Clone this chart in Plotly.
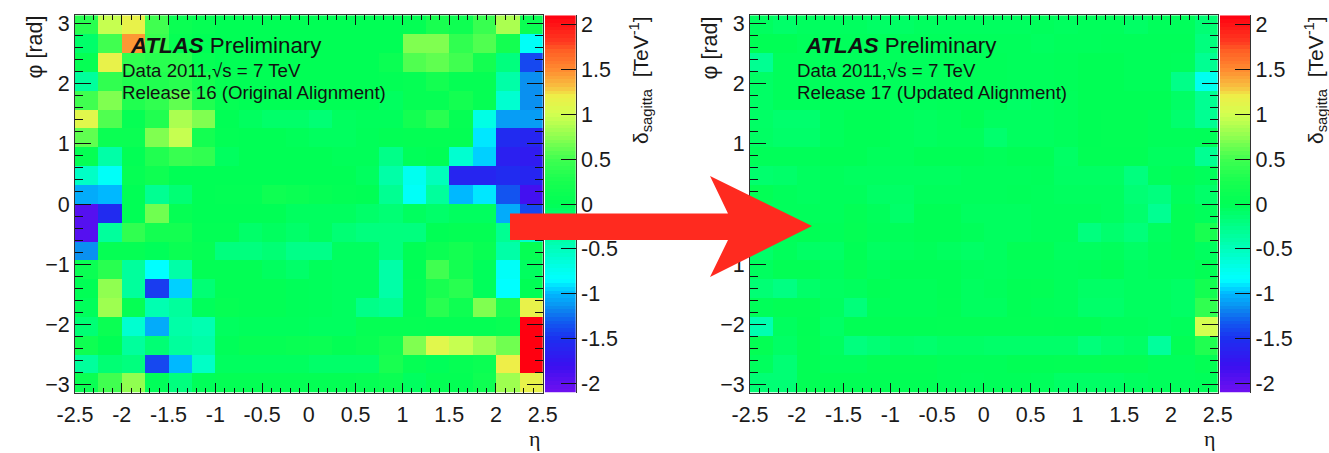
import math
import plotly.graph_objects as go

W, H = 1329, 453

eta_centers = [-2.375 + 0.25 * i for i in range(20)]
phi_centers = [math.pi * (1 - (2 * i + 1) / 20) for i in range(20)]

# rows run from the top (phi = +pi) to the bottom (phi = -pi), columns from eta = -2.5
release16 = [
    [.35, .95, 1.15, .5, .1, .05, 0, 0, 0, 0, 0, 0, 0, 0, .03, .25, .15, .45, .85, .1],
    [-.1, .5, 1.45, .45, .05, 0, 0, 0, 0, 0, 0, 0, 0, 0, .7, .7, .4, .55, .2, -.8],
    [.05, 1.15, .4, .35, .35, .05, 0, 0, 0, 0, 0, 0, 0, .1, .55, .6, .5, .2, -.2, -1.4],
    [-.35, .4, .3, .3, .35, .2, .05, 0, 0, 0, 0, 0, 0, .02, .05, .2, .05, .05, -.4, -1.15],
    [.5, .7, .3, .4, .6, .3, .05, 0, 0, 0, 0, 0, 0, -.05, .05, .05, .2, .05, -.6, -1.15],
    [1.1, .55, .05, .3, .85, .7, 0, -.05, -.1, -.1, -.15, -.05, -.03, -.03, .2, .35, .05, -.7, -1.1, -1.1],
    [.6, .1, .1, .7, .95, .2, .02, 0, 0, -.02, -.05, -.05, -.02, .02, .03, .03, .03, -.9, -1.55, -1.6],
    [.05, -.4, .02, .3, .45, .4, -.05, 0, 0, 0, 0, -.02, -.02, -.25, -.02, 0, -.6, -.95, -1.65, -1.7],
    [-.55, -.8, .05, .15, 0, 0, 0, 0, 0, 0, 0, 0, -.05, -.4, -.75, -.5, -1.6, -1.6, -1.55, -1.6],
    [-1.05, -1.0, 0, -.3, -.15, 0, .02, .02, .15, .1, .05, .02, 0, -.3, -.8, -.35, -1.0, -.9, -1.35, -1.85],
    [-1.95, -1.55, 0, .65, .05, 0, 0, 0, 0, -.05, -.05, -.05, -.1, -.15, -.05, -.1, -.05, -.05, -1.05, -1.4],
    [-1.95, -.35, .4, .2, .2, .02, .02, -.1, -.05, -.1, -.05, -.15, -.2, -.2, -.2, 0, .03, .03, -.3, -.6],
    [-1.15, .05, .05, -.02, .1, .05, -.2, -.2, -.15, -.25, -.25, -.05, -.05, -.2, 0, .1, .2, .08, -.4, .05],
    [.1, .35, -.35, -.85, -.4, .02, .02, .02, -.05, -.1, -.03, -.05, -.05, -.4, 0, .5, .2, -.03, -.8, -.05],
    [0, .75, -.35, -1.45, -.95, -.15, .02, .02, .02, -.02, -.03, -.05, -.05, -.4, .02, .25, .35, -.03, -.85, 0],
    [-.03, .8, .05, -.45, -.35, -.03, .05, .02, .02, -.02, -.03, -.05, -.25, -.3, .02, .35, .15, .7, .25, 1.15],
    [-.15, .1, -.6, -1.05, -.4, -.45, -.05, -.03, -.03, -.03, -.05, -.05, .05, .05, .05, .04, .04, .04, .08, 2.1],
    [.15, 0, -.35, -.15, -.35, -.4, -.02, .05, .05, .08, .1, .03, .08, .2, .7, 1.1, .95, .8, .65, 2.1],
    [-.35, -.15, -.2, -1.4, -1.0, -.55, -.05, -.05, -.05, -.05, -.1, -.1, -.1, .25, .05, -.02, .05, .1, 1.2, 2.1],
    [.1, .5, .75, -.02, -.2, -.02, .03, .03, .03, .03, .03, .03, .05, .1, -.05, .03, .03, .15, .8, 1.15],
]

release17 = [
    [-.05, -.1, -.05, -.05, -.05, -.08, -.08, -.05, -.05, -.05, -.05, -.05, -.03, -.05, -.03, -.03, -.08, -.03, -.03, -.15],
    [0, 0, -.03, -.03, -.03, -.03, -.03, -.03, -.03, -.03, -.03, -.03, -.05, -.03, -.03, -.02, -.02, -.02, -.02, -.2],
    [-.3, -.03, -.03, -.03, -.03, -.03, -.03, -.03, -.02, -.02, -.02, -.03, -.03, -.02, 0, 0, -.02, -.02, -.03, -.3],
    [-.08, -.03, -.03, -.03, -.03, -.03, -.03, -.03, -.02, -.02, -.02, -.03, -.03, -.02, 0, 0, -.02, -.02, -.25, -.75],
    [-.08, -.03, -.03, -.03, -.03, -.03, -.03, -.03, -.02, -.02, -.02, -.08, -.05, -.03, 0, 0, 0, 0, -.08, -.3],
    [-.08, -.12, -.12, -.03, 0, 0, -.03, -.05, -.03, 0, -.05, -.05, -.05, -.03, 0, .02, .02, -.02, -.12, -.3],
    [-.07, -.1, -.1, -.03, 0, 0, -.03, -.05, -.03, -.03, -.12, -.05, -.05, -.03, 0, .02, .02, -.02, -.02, -.02],
    [-.02, -.02, -.02, 0, 0, -.03, -.03, 0, 0, 0, -.02, 0, 0, -.08, .01, .01, .01, -.05, -.05, -.3],
    [-.12, -.1, -.05, -.03, -.05, -.05, -.05, -.05, -.05, -.03, -.03, -.03, -.02, -.07, -.07, -.07, -.2, -.03, .02, -.03],
    [.02, -.03, -.05, -.03, -.03, -.08, -.08, -.03, -.03, -.03, -.03, -.02, -.03, -.05, -.05, -.05, -.15, -.2, -.03, -.1],
    [-.05, -.03, -.03, -.03, .02, -.03, -.1, 0, 0, -.05, -.05, -.05, -.03, -.03, -.03, -.05, -.12, -.3, .02, -.03],
    [-.08, -.02, 0, -.02, .03, -.02, -.02, 0, 0, -.02, -.05, -.05, -.03, -.03, -.2, -.12, -.18, -.05, .02, .25],
    [-.1, -.03, -.08, -.08, 0, -.06, -.04, -.02, -.05, -.08, -.05, .02, .02, -.05, -.05, -.03, -.08, -.03, .02, -.05],
    [-.05, .02, .02, -.04, .03, -.03, 0, 0, 0, -.03, -.04, -.02, -.02, -.03, -.02, .01, -.05, -.03, -.03, .02],
    [-.15, -.22, -.1, -.06, -.04, .01, -.02, -.02, 0, -.05, -.03, .01, .02, -.03, -.08, -.08, -.05, -.05, -.08, .2],
    [-.02, .02, .02, -.05, -.18, -.02, -.02, -.02, .01, -.05, -.05, .01, -.02, -.03, -.1, -.1, -.05, -.05, -.08, .4],
    [-.45, -.05, .01, -.08, .01, .01, .01, .01, .02, .02, .02, .02, .02, .01, .01, -.03, -.03, -.05, -.03, 1.0],
    [.03, -.08, .02, -.05, -.2, -.15, -.1, -.12, -.08, -.08, -.1, -.1, -.1, -.1, -.18, -.12, -.08, -.35, .02, .3],
    [-.04, -.15, .02, -.03, -.03, .02, .02, .02, -.02, -.02, -.02, .01, .01, .02, .02, .03, .03, -.03, -.03, .03],
    [-.15, -.15, .02, .01, .01, .01, .01, .01, -.02, -.03, -.02, -.02, -.03, -.08, -.08, -.08, -.05, -.03, -.03, -.02],
]

z_min, z_max = -2.1, 2.1
color_stops = [
    (-2.1, "#7010f0"), (-1.8, "#3a10f0"), (-1.5, "#1c30f0"), (-1.3, "#1060f0"),
    (-1.15, "#0a90f0"), (-1.0, "#00b8ff"), (-.85, "#00ffff"), (-.75, "#00fff0"),
    (-.5, "#00ffbb"), (-.25, "#00ff88"), (0, "#00ff55"), (.25, "#18ff50"),
    (.5, "#40ff50"), (.75, "#90ff50"), (1.0, "#d4ff50"), (1.2, "#eeee48"),
    (1.3, "#f8c040"), (1.5, "#ff8a30"), (1.7, "#ff6025"), (1.8, "#ff3a20"), (2.1, "#ff0010"),
]
colorscale = [[(v - z_min) / (z_max - z_min), c] for v, c in color_stops]

scale_levels = [z_min + (z_max - z_min) * (i + .5) / 100 for i in range(100)]

eta_ticks = [-2.5, -2, -1.5, -1, -.5, 0, .5, 1, 1.5, 2, 2.5]
eta_labels = ["-2.5", "-2", "-1.5", "-1", "-0.5", "0", "0.5", "1", "1.5", "2", "2.5"]
phi_ticks = [-3, -2, -1, 0, 1, 2, 3]
scale_ticks = [-2, -1.5, -1, -.5, 0, .5, 1, 1.5, 2]
scale_labels = ["-2", "-1.5", "-1", "-0.5", "0", "0.5", "1", "1.5", "2"]

FONT = "Liberation Sans"
INK = "#1a1a1a"
tickfont = dict(family=FONT, size=21.5, color=INK)


def px(x):
    return x / W


def py(y):
    return 1 - y / H


panels = [
    dict(data=release16, left=75.0, right=542.7, sc0=545.0, sc1=575.7, dx=0, tag="", scale="2",
         rel="Release 16 (Original Alignment)"),
    dict(data=release17, left=750.0, right=1217.7, sc0=1220.0, sc1=1250.3, dx=675, tag="3", scale="4",
         rel="Release 17 (Updated Alignment)"),
]
top, bottom = 15.3, 392.7

fig = go.Figure()
annotations = []
layout = {}

for p in panels:
    xa, ya = "x" + p["tag"], "y" + p["tag"]
    xs, ys = "x" + p["scale"], "y" + p["scale"]
    fig.add_trace(go.Heatmap(x=eta_centers, y=phi_centers, z=p["data"], xaxis=xa, yaxis=ya,
                             colorscale=colorscale, zmin=z_min, zmax=z_max, showscale=False,
                             hoverinfo="skip"))
    fig.add_trace(go.Heatmap(x=[0], y=scale_levels, z=[[v] for v in scale_levels], xaxis=xs, yaxis=ys,
                             colorscale=colorscale, zmin=z_min, zmax=z_max, showscale=False,
                             hoverinfo="skip"))
    layout["xaxis" + p["tag"]] = dict(
        domain=[px(p["left"]), px(p["right"])], range=[-2.5, 2.5], anchor=ya, automargin=False,
        tickmode="array", tickvals=eta_ticks, ticktext=eta_labels, ticks="inside", ticklen=10,
        tickwidth=1, tickcolor="#111", showgrid=False, zeroline=False, showline=True,
        linecolor="#333", linewidth=1, mirror="allticks", tickfont=tickfont, ticklabelstandoff=2,
        minor=dict(dtick=.1, tick0=0, ticks="inside", ticklen=5, tickwidth=1, tickcolor="#111", showgrid=False),
    )
    layout["yaxis" + p["tag"]] = dict(
        domain=[py(bottom), py(top)], range=[-math.pi, math.pi], anchor=xa, automargin=False,
        tickmode="array", tickvals=phi_ticks, ticks="inside", ticklen=16,
        tickwidth=1, tickcolor="#111", showgrid=False, zeroline=False, showline=True,
        linecolor="#333", linewidth=1, mirror="allticks", tickfont=tickfont, ticklabelstandoff=0,
        minor=dict(dtick=.2, tick0=0, ticks="inside", ticklen=8, tickwidth=1, tickcolor="#111", showgrid=False),
    )
    layout["xaxis" + p["scale"]] = dict(
        domain=[px(p["sc0"]), px(p["sc1"])], range=[-.5, .5], anchor=ys, automargin=False,
        showticklabels=False, ticks="", showgrid=False, zeroline=False, showline=False,
    )
    layout["yaxis" + p["scale"]] = dict(
        domain=[py(bottom), py(top)], range=[z_min, z_max], anchor=xs, side="right", automargin=False,
        tickmode="array", tickvals=scale_ticks, ticktext=scale_labels, ticks="inside", ticklen=15,
        tickwidth=1, tickcolor="#111", showgrid=False, zeroline=False, showline=True,
        linecolor="#333", linewidth=1, tickfont=tickfont,
    )

    dx = p["dx"]
    text = [
        (130 + dx, 46, "<b><i>ATLAS</i></b> Preliminary", 22.3),
        (122 + dx, 70, "Data 2011,√s = 7 TeV", 18.7),
        (122 + dx, 92, p["rel"], 18.7),
    ]
    for x, y, t, s in text:
        annotations.append(dict(x=px(x), y=py(y), xref="paper", yref="paper", text=t, showarrow=False,
                                xanchor="left", yanchor="middle", borderpad=0, borderwidth=0,
                                font=dict(family=FONT, size=s, color="#111")))
    annotations.append(dict(x=px(34 + dx), y=py(14), xref="paper", yref="paper",
                            text="φ [rad]", textangle=-90, showarrow=False, xanchor="center", yanchor="top",
                            font=dict(family=FONT, size=21.5, color=INK)))
    annotations.append(dict(x=px(535 + dx), y=py(438), xref="paper", yref="paper",
                            text="η", showarrow=False, xanchor="center", yanchor="middle",
                            font=dict(family="Liberation Serif", size=22, color=INK)))
    annotations.append(dict(x=px(640 + dx), y=py(14), xref="paper", yref="paper",
                            text="δ<sub>sagitta</sub>  [TeV<sup>-1</sup>]", textangle=-90, showarrow=False,
                            xanchor="center", yanchor="top",
                            font=dict(family=FONT, size=21, color=INK)))

arrow = [(510, 213.5), (728, 213.5), (710, 176), (812, 226), (710, 277), (728, 240), (510, 240)]
path = "M " + " L ".join(f"{px(x):.5f},{py(y):.5f}" for x, y in arrow) + " Z"

fig.update_layout(
    width=W, height=H, margin=dict(l=0, r=0, t=0, b=0, pad=0),
    paper_bgcolor="white", plot_bgcolor="white", showlegend=False,
    annotations=annotations,
    shapes=[dict(type="path", xref="paper", yref="paper", path=path,
                 fillcolor="#ff2a1f", line=dict(width=0), layer="above")],
    **layout,
)

fig.write_html("out.html", config=dict(displayModeBar=False),
               post_script="document.body.style.margin='0';")
